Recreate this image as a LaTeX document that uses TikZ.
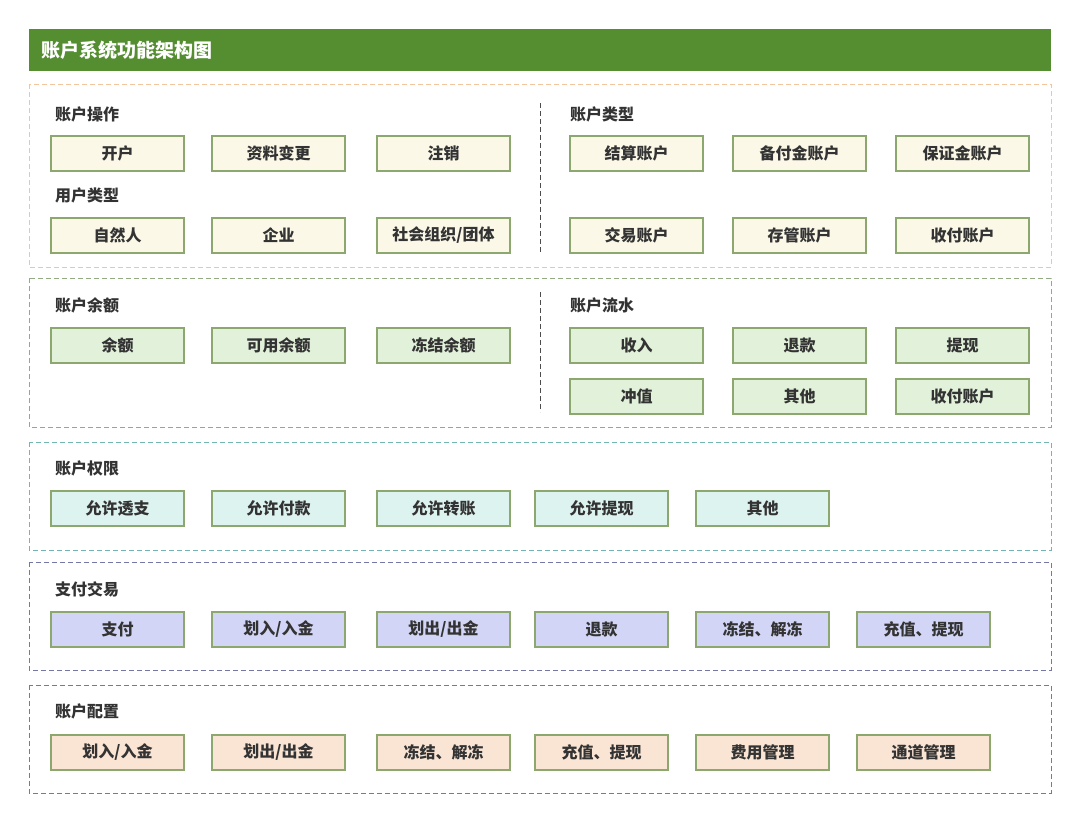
\documentclass[tikz,border=0pt]{standalone}
\usepackage{fontspec}
\newfontfamily\cjk{Noto Sans CJK SC}
\usepackage{tikz}
\usetikzlibrary{positioning}

\definecolor{hdrgreen}{RGB}{84,142,48}
\definecolor{boxline}{RGB}{140,168,110}
\definecolor{txtgray}{RGB}{51,51,51}
\definecolor{fillcream}{RGB}{251,248,232}
\definecolor{fillgreen}{RGB}{226,242,218}
\definecolor{fillcyan}{RGB}{221,243,240}
\definecolor{fillblue}{RGB}{210,213,245}
\definecolor{fillpeach}{RGB}{250,228,212}
\definecolor{lineorange}{RGB}{242,196,155}
\definecolor{linegreen}{RGB}{145,172,130}
\definecolor{linecyan}{RGB}{115,180,180}
\definecolor{lineblue}{RGB}{115,120,165}

\begin{document}
\begin{tikzpicture}[x=1pt,y=-1pt,
      item/.style={draw=boxline,line width=1.1pt,minimum width=133pt,minimum height=35pt,
        inner sep=0pt,font=\cjk\bfseries\fontsize{16}{16}\selectfont,text=txtgray},
      group/.style={draw=#1,line width=0.9pt,dash pattern=on 5pt off 3pt},
      head/.style={anchor=west,inner sep=0pt,font=\cjk\bfseries\fontsize{16}{16}\selectfont,text=txtgray},
      divider/.style={draw=black!70,line width=1pt,dash pattern=on 5pt off 3pt}]
			\useasboundingbox (0,0) rectangle (1080,823);
			% title bar
			\node[fill=hdrgreen,minimum width=1022pt,minimum height=42pt,inner sep=0pt] (bar) at (540,50) {};
			\node[anchor=west,inner sep=0pt,text=white,font=\cjk\bfseries\fontsize{19}{19}\selectfont] (title) at (41,50) {账户系统功能架构图};

			% groups
			\draw[group=lineorange] (29,84) rectangle (1051,267);
			\draw[group=linegreen] (29,278) rectangle (1051,427);
			\draw[group=linecyan] (29,442) rectangle (1051,550);
			\draw[group=lineblue] (29,562) rectangle (1051,670);
			\draw[group=lineblue] (29,685) rectangle (1051,793);
			\coordinate (d1a) at (540,103); \coordinate (d1b) at (540,252);
			\coordinate (d2a) at (540,292); \coordinate (d2b) at (540,412);
			\draw[divider] (d1a) -- (d1b);
			\draw[divider] (d2a) -- (d2b);

			% account operations / user types
			\node[head] (ops) at (55,114) {账户操作};
			\node[item,fill=fillcream] (open) at (117.5,153.5) {开户};
			\node[item,fill=fillcream] (edit) at (278.5,153.5) {资料变更};
			\node[item,fill=fillcream] (close) at (443.5,153.5) {注销};
			\node[head] (users) at (55,195) {用户类型};
			\node[item,fill=fillcream] (person) at (117.5,235.5) {自然人};
			\node[item,fill=fillcream] (firm) at (278.5,235.5) {企业};
			\node[item,fill=fillcream] (org) at (443.5,235.5) {社会组织/团体};
			% account types
			\node[head] (types) at (570,114) {账户类型};
			\node[item,fill=fillcream] (settle) at (636.5,153.5) {结算账户};
			\node[item,fill=fillcream] (reserve) at (799.5,153.5) {备付金账户};
			\node[item,fill=fillcream] (margin) at (962.5,153.5) {保证金账户};
			\node[item,fill=fillcream] (trade) at (636.5,235.5) {交易账户};
			\node[item,fill=fillcream] (custody) at (799.5,235.5) {存管账户};
			\node[item,fill=fillcream] (collect) at (962.5,235.5) {收付账户};

			% balance / statements
			\node[head] (bal) at (55,305) {账户余额};
			\node[item,fill=fillgreen] (balance) at (117.5,345.5) {余额};
			\node[item,fill=fillgreen] (avail) at (278.5,345.5) {可用余额};
			\node[item,fill=fillgreen] (frozen) at (443.5,345.5) {冻结余额};
			\node[head] (flow) at (570,305) {账户流水};
			\node[item,fill=fillgreen] (income) at (636.5,345.5) {收入};
			\node[item,fill=fillgreen] (refund) at (799.5,345.5) {退款};
			\node[item,fill=fillgreen] (withdraw) at (962.5,345.5) {提现};
			\node[item,fill=fillgreen] (reverse) at (636.5,396.5) {冲值};
			\node[item,fill=fillgreen] (other) at (799.5,396.5) {其他};
			\node[item,fill=fillgreen] (payacct) at (962.5,396.5) {收付账户};

			% permissions
			\node[head] (perm) at (55,468) {账户权限};
			\node[item,fill=fillcyan] (overdraft) at (117.5,508.5) {允许透支};
			\node[item,fill=fillcyan] (allowpay) at (278.5,508.5) {允许付款};
			\node[item,fill=fillcyan] (transfer) at (443.5,508.5) {允许转账};
			\node[item,fill=fillcyan] (allowwd) at (601.5,508.5) {允许提现};
			\node[item,fill=fillcyan] (permother) at (762.5,508.5) {其他};

			% payment transactions
			\node[head] (pay) at (55,589) {支付交易};
			\node[item,fill=fillblue] (payment) at (117.5,629.5) {支付};
			\node[item,fill=fillblue] (payin) at (278.5,629.5) {划入/入金};
			\node[item,fill=fillblue] (payout) at (443.5,629.5) {划出/出金};
			\node[item,fill=fillblue] (payrefund) at (601.5,629.5) {退款};
			\node[item,fill=fillblue] (payfreeze) at (762.5,629.5) {冻结、解冻};
			\node[item,fill=fillblue] (paytopup) at (923.5,629.5) {充值、提现};

			% configuration
			\node[head] (conf) at (55,711) {账户配置};
			\node[item,fill=fillpeach] (cfgin) at (117.5,752.5) {划入/入金};
			\node[item,fill=fillpeach] (cfgout) at (278.5,752.5) {划出/出金};
			\node[item,fill=fillpeach] (cfgfreeze) at (443.5,752.5) {冻结、解冻};
			\node[item,fill=fillpeach] (cfgtopup) at (601.5,752.5) {充值、提现};
			\node[item,fill=fillpeach] (fees) at (762.5,752.5) {费用管理};
			\node[item,fill=fillpeach] (channel) at (923.5,752.5) {通道管理};
		\end{tikzpicture}
\end{document}
